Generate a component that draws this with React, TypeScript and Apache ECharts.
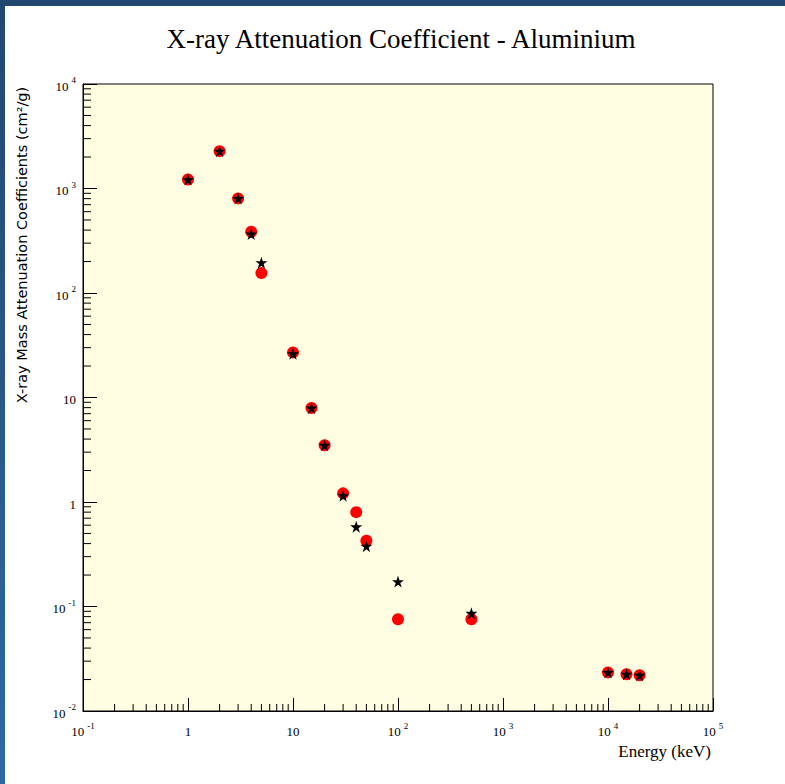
import React, { useEffect, useRef } from "react";
import * as echarts from "echarts";

// Photon energies (keV)
const energies = [1, 2, 3, 4, 5, 10, 15, 20, 30, 40, 50, 100, 500, 10000, 15000, 20000];
// Red circles (cm^2/g)
const circleValues = [1220, 2276, 804, 386, 155, 27.0, 7.94, 3.49, 1.21, 0.8, 0.426, 0.0755, 0.0755, 0.0234, 0.0225, 0.022];
// Black stars (cm^2/g)
const starValues = [1220, 2276, 804, 367, 195, 26.2, 7.94, 3.49, 1.15, 0.58, 0.378, 0.173, 0.0861, 0.0234, 0.0225, 0.022];

const xTickLabels = ["10^-1", "1", "10", "10^2", "10^3", "10^4", "10^5"];
const yTickLabels = ["10^-2", "10^-1", "1", "10", "10^2", "10^3", "10^4"];
const xMinorTicks = [
  0.2, 0.3, 0.4, 0.5, 0.6, 0.7, 0.8, 0.9,
  2, 3, 4, 5, 6, 7, 8, 9,
  20, 30, 40, 50, 60, 70, 80, 90,
  200, 300, 400, 500, 600, 700, 800, 900,
  2000, 3000, 4000, 5000, 6000, 7000, 8000, 9000,
  20000, 30000, 40000, 50000, 60000, 70000, 80000, 90000,
];
const yMinorTicks = [
  0.02, 0.03, 0.04, 0.05, 0.06, 0.07, 0.08, 0.09,
  0.2, 0.3, 0.4, 0.5, 0.6, 0.7, 0.8, 0.9,
  2, 3, 4, 5, 6, 7, 8, 9,
  20, 30, 40, 50, 60, 70, 80, 90,
  200, 300, 400, 500, 600, 700, 800, 900,
  2000, 3000, 4000, 5000, 6000, 7000, 8000, 9000,
];

const X_MIN = 0.1, X_MAX = 100000, Y_MIN = 0.01, Y_MAX = 10000;

const STAR =
  "path://M50,0 L61.2,34.5 L97.6,34.5 L68.2,55.9 L79.4,90.5 L50,69.1 L20.6,90.5 L31.8,55.9 L2.4,34.5 L38.8,34.5 Z";

function toRich(lbl: string): string {
  const parts = lbl.split("^");
  if (parts.length === 1) return `{b|${parts[0]}}`;
  return `{b|${parts[0]}}{s|${parts[1]}}`;
}

function makeFormatter(labels: string[], minExp: number) {
  return (v: number) => {
    const e = Math.round(Math.log10(v));
    const lbl = labels[e - minExp];
    return lbl ? toRich(lbl) : "";
  };
}

const rich = {
  b: { fontFamily: "Liberation Serif", fontSize: 13, color: "#000", lineHeight: 17, verticalAlign: "bottom" as const },
  s: { fontFamily: "Liberation Serif", fontSize: 9, color: "#000", verticalAlign: "top" as const, padding: [0, 0, 0, 3] },
};

export default function App() {
  const ref = useRef<HTMLDivElement>(null);
  useEffect(() => {
    if (!ref.current) return;
    const chart = echarts.init(ref.current, undefined, { renderer: "svg" });
    chart.setOption({
      animation: false,
      backgroundColor: "#ffffff",
      title: {
        text: "X-ray Attenuation Coefficient - Aluminium",
        left: 396,
        top: 20,
        textAlign: "center",
        textStyle: { fontFamily: "Liberation Serif", fontSize: 27, fontWeight: "normal", color: "#000" },
      },
      graphic: [
        {
          type: "rect",
          shape: { x: 0, y: 0, width: 785, height: 6 },
          style: { fill: "#22476f" },
        },
        {
          type: "rect",
          shape: { x: 0, y: 0, width: 5, height: 784 },
          style: {
            fill: new echarts.graphic.LinearGradient(0, 0, 0, 1, [
              { offset: 0, color: "#22476f" },
              { offset: 1, color: "#2d68a6" },
            ]),
          },
        },
        {
          type: "text",
          x: 22,
          y: 245,
          rotation: Math.PI / 2,
          style: {
            text: "X-ray Mass Attenuation Coefficients (cm²/g)",
            fontFamily: "DejaVu Sans",
            fontSize: 14.5,
            fill: "#000",
            align: "center",
            verticalAlign: "middle",
          },
        },
        {
          type: "text",
          x: 711,
          y: 751,
          style: {
            text: "Energy (keV)",
            fontFamily: "Liberation Serif",
            fontSize: 17,
            fill: "#000",
            align: "right",
            verticalAlign: "middle",
          },
        },
      ],
      grid: {
        left: 83,
        top: 84,
        right: 72,
        bottom: 73,
        show: true,
        backgroundColor: "#fffee3",
        borderColor: "#000",
        borderWidth: 1,
      },
      xAxis: {
        type: "log",
        logBase: 10,
        min: X_MIN,
        max: X_MAX,
        splitNumber: 6,
        axisLine: { show: true, lineStyle: { color: "#000", width: 1 } },
        axisTick: { show: true, inside: true, length: 13, lineStyle: { color: "#000" } },
        splitLine: { show: false },
        axisLabel: { margin: 10, formatter: makeFormatter(xTickLabels, -1), rich },
      },
      yAxis: {
        type: "log",
        logBase: 10,
        min: Y_MIN,
        max: Y_MAX,
        splitNumber: 6,
        axisLine: { show: true, lineStyle: { color: "#000", width: 1 } },
        axisTick: { show: true, inside: true, length: 14, lineStyle: { color: "#000" } },
        splitLine: { show: false },
        axisLabel: { margin: 7, formatter: makeFormatter(yTickLabels, -2), rich },
      },
      series: [
        {
          type: "custom",
          silent: true,
          data: xMinorTicks.map((v) => [v, Y_MIN]),
          renderItem: (_params: any, api: any) => {
            const p = api.coord([api.value(0), api.value(1)]);
            return {
              type: "line",
              shape: { x1: p[0], y1: p[1], x2: p[0], y2: p[1] - 7 },
              style: { stroke: "#000", lineWidth: 1 },
            };
          },
          z: 1,
        },
        {
          type: "custom",
          silent: true,
          data: yMinorTicks.map((v) => [X_MIN, v]),
          renderItem: (_params: any, api: any) => {
            const p = api.coord([api.value(0), api.value(1)]);
            return {
              type: "line",
              shape: { x1: p[0], y1: p[1], x2: p[0] + 8, y2: p[1] },
              style: { stroke: "#000", lineWidth: 1 },
            };
          },
          z: 1,
        },
        {
          type: "scatter",
          data: energies.map((e, i) => [e, circleValues[i]]),
          symbol: "circle",
          symbolSize: 12,
          itemStyle: { color: "#ff0000", opacity: 1 },
          z: 2,
        },
        {
          type: "scatter",
          data: energies.map((e, i) => [e, starValues[i]]),
          symbol: STAR,
          symbolSize: 12,
          itemStyle: { color: "#000000", opacity: 1 },
          z: 3,
        },
      ],
    });
    return () => chart.dispose();
  }, []);
  return (
    <div
      ref={ref}
      style={{ position: "fixed", left: 0, top: 0, width: 785, height: 784 }}
    />
  );
}
